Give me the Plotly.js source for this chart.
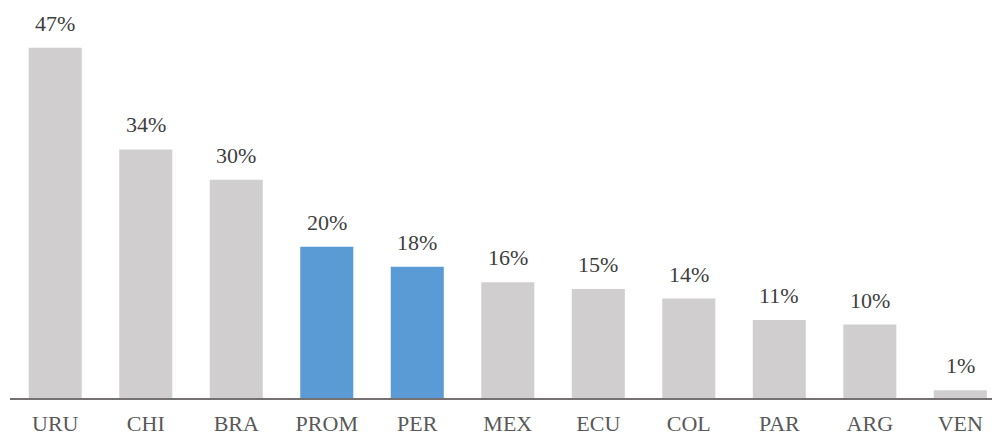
<!DOCTYPE html>
<html>
<head>
<meta charset="utf-8">
<script src="https://cdn.plot.ly/plotly-3.0.1.min.js"></script>
<style>html,body{margin:0;padding:0;background:#fff;}#chart{width:992px;height:437px;}</style>
</head>
<body>
<div id="chart"></div>
<script>
const categories = ["URU","CHI","BRA","PROM","PER","MEX","ECU","COL","PAR","ARG","VEN"];
const values = [47.2, 33.5, 29.4, 20.4, 17.7, 15.6, 14.7, 13.4, 10.5, 9.9, 1.05];
const valueLabels = ["47%","34%","30%","20%","18%","16%","15%","14%","11%","10%","1%"];
const highlighted = ["PROM","PER"];

const grey = "#D0CECE", blue = "#5B9BD5";
const colors = categories.map(c => highlighted.includes(c) ? blue : grey);
const serif = "Liberation Serif";

const trace = {
  type: "bar",
  x: categories,
  y: values,
  marker: {color: colors, line: {width: 0}},
  hoverinfo: "skip"
};

const annotations = categories.map((c, i) => ({
  x: c, y: values[i], xref: "x", yref: "y",
  text: valueLabels[i], showarrow: false,
  yanchor: "bottom", yshift: 10,
  font: {family: serif, size: 22, color: "#404040"}
}));

const layout = {
  width: 992, height: 437,
  margin: {l: 10, r: 0, t: 0, b: 39},
  paper_bgcolor: "#fff", plot_bgcolor: "#fff",
  bargap: 0.414,
  showlegend: false,
  font: {family: serif},
  xaxis: {
    type: "category",
    range: [-0.5, 10.35],
    showline: true, linecolor: "#767171", linewidth: 2,
    showgrid: false, zeroline: false, ticks: "",
    tickfont: {family: serif, size: 22, color: "#595959"},
    ticklabelstandoff: 5,
    fixedrange: true
  },
  yaxis: {
    range: [0, 53.64],
    visible: false, showgrid: false, zeroline: false, fixedrange: true
  },
  annotations: annotations
};

Plotly.newPlot("chart", [trace], layout, {displayModeBar: false, staticPlot: true});
</script>
</body>
</html>
